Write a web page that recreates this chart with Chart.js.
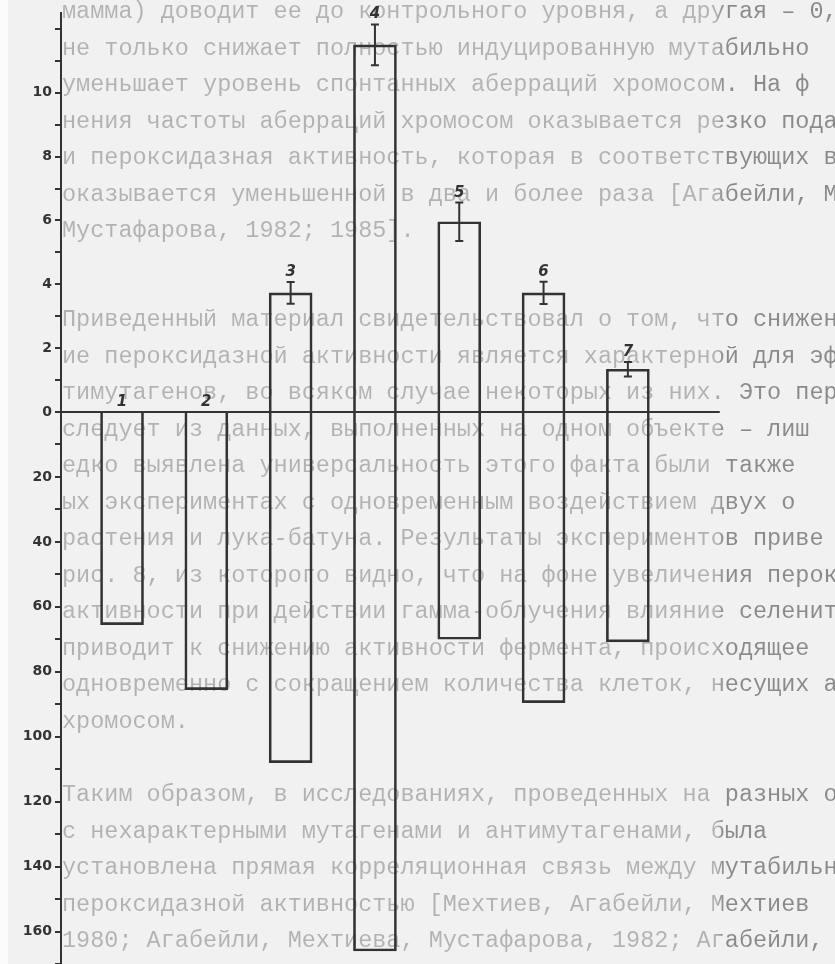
<!DOCTYPE html>
<html lang="ru">
<head>
<meta charset="utf-8">
<title>Рис. 8</title>
<script src="https://cdn.jsdelivr.net/npm/chart.js@4.4.1/dist/chart.umd.min.js"></script>
<style>
  html, body { margin: 0; padding: 0; }
  body {
    width: 835px; height: 964px; overflow: hidden; position: relative;
    background: #f1f1f1;
  }
  #edge { position: absolute; left: 0; top: 0; width: 8px; height: 964px; background: #fbfbfb; }
  /* faded page text behind the figure */
  .ln {
    position: absolute; left: 0; width: 835px; box-sizing: border-box; padding-left: 62px;
    white-space: pre; font-family: "Liberation Mono", monospace; font-size: 23.5px; line-height: 26px;
    background: linear-gradient(to right, #b2b2b2 0, #b2b2b2 716px, #8a8a8a 724px, #8a8a8a 835px);
    -webkit-background-clip: text; background-clip: text; color: transparent;
  }
  #chart { position: absolute; left: 0; top: 0; }
</style>
</head>
<body>
<div id="edge"></div>
<div id="page"></div>
<canvas id="chart" width="835" height="964"></canvas>
<script>
// -- Data --
const groups = ['1', '2', '3', '4', '5', '6', '7'];
const groupX = [1, 2, 3, 4, 5, 6, 7];
const upperValues = [0, 0, 3.73, 11.5, 5.96, 3.73, 1.34];
const upperErrors = [0, 0, 0.34, 0.64, 0.6, 0.35, 0.23];
const lowerValues = [65.5, 85.5, 108, 166, 70, 89.5, 70.8];
const upperTicks = [0, 2, 4, 6, 8, 10];
const lowerTicks = [20, 40, 60, 80, 100, 120, 140, 160];

// -- Page text (bleeding through the scan) --
const paragraphs = [
    ['мамма) доводит ее до контрольного уровня, а другая – 0,00',
     'не только снижает полностью индуцированную мутабильно',
     'уменьшает уровень спонтанных аберраций хромосом. На ф',
     'нения частоты аберраций хромосом оказывается резко пода',
     'и пероксидазная активность, которая в соответствующих в',
     'оказывается уменьшенной в два и более раза [Агабейли, М',
     'Мустафарова, 1982; 1985].'],
    ['Приведенный материал свидетельствовал о том, что снижен',
     'ие пероксидазной активности является характерной для эфф',
     'тимутагенов, во всяком случае некоторых из них. Это первое',
     'следует из данных, выполненных на одном объекте – лиш',
     'едко выявлена универсальность этого факта были также',
     'ых экспериментах с одновременным воздействием двух о',
     'растения и лука-батуна. Результаты экспериментов приве',
     'рис. 8, из которого видно, что на фоне увеличения перокс',
     'активности при действии гамма-облучения влияние селенита',
     'приводит к снижению активности фермента, происходящее',
     'одновременно с сокращением количества клеток, несущих аб',
     'хромосом.'],
    ['Таким образом, в исследованиях, проведенных на разных об',
     'с нехарактерными мутагенами и антимутагенами, была',
     'установлена прямая корреляционная связь между мутабильно',
     'пероксидазной активностью [Мехтиев, Агабейли, Мехтиев',
     '1980; Агабейли, Мехтиева, Мустафарова, 1982; Агабейли, М']
];
const paraStart = [12, 320, 795];
const lineStep = 36.5;

const page = document.getElementById('page');
paragraphs.forEach((lines, p) => {
    lines.forEach((text, i) => {
        const d = document.createElement('div');
        d.className = 'ln';
        d.textContent = text;
        d.style.top = (paraStart[p] + i * lineStep - 13) + 'px';
        page.appendChild(d);
    });
});

// -- Chart --
const ink = '#333333';
const zeroLineEnd = 8.09;

const extras = {
    id: 'extras',
    afterDatasetsDraw(chart) {
        const ctx = chart.ctx;
        const xs = chart.scales.x;
        const yt = chart.scales.yTop;
        const y0 = yt.getPixelForValue(0);
        ctx.save();
        ctx.strokeStyle = ink;
        ctx.fillStyle = ink;
        ctx.lineWidth = 2;
        // zero line
        ctx.beginPath();
        ctx.moveTo(xs.left, y0);
        ctx.lineTo(xs.getPixelForValue(zeroLineEnd), y0);
        ctx.stroke();
        // error bars and group numbers
        ctx.font = 'bold italic 15px "DejaVu Sans", sans-serif';
        ctx.textAlign = 'center';
        ctx.textBaseline = 'alphabetic';
        groupX.forEach((gx, i) => {
            const cx = xs.getPixelForValue(gx);
            let top = y0;
            if (upperErrors[i] > 0) {
                const hi = yt.getPixelForValue(upperValues[i] + upperErrors[i]);
                const lo = yt.getPixelForValue(upperValues[i] - upperErrors[i]);
                ctx.beginPath();
                ctx.moveTo(cx, hi); ctx.lineTo(cx, lo);
                ctx.moveTo(cx - 4, hi); ctx.lineTo(cx + 4, hi);
                ctx.moveTo(cx - 4, lo); ctx.lineTo(cx + 4, lo);
                ctx.stroke();
                top = hi;
            }
            ctx.fillText(groups[i], cx, top - 6);
        });
        ctx.restore();
    }
};

const axisFont = { family: '"DejaVu Sans", sans-serif', size: 14, weight: 'bold' };

function yAxis(max, step, labels, weight, reverse) {
    return {
        type: 'linear',
        position: 'left',
        stack: 'v',
        stackWeight: weight,
        reverse: reverse,
        min: 0,
        max: max,
        afterFit(scale) {
            scale.width = 61;
            scale.paddingTop = 0;
            scale.paddingBottom = 0;
        },
        border: { display: true, color: ink, width: 2 },
        grid: { drawOnChartArea: false, drawTicks: true, tickLength: 6, color: ink, lineWidth: 2 },
        ticks: {
            stepSize: step,
            maxTicksLimit: 100,
            autoSkip: false,
            includeBounds: false,
            color: ink,
            font: axisFont,
            padding: 3,
            callback: (v) => labels.includes(v) ? String(v) : ''
        }
    };
}

new Chart(document.getElementById('chart'), {
    type: 'bar',
    data: {
        datasets: [
            {
                data: groupX.map((x, i) => ({ x: x, y: upperValues[i] })),
                yAxisID: 'yTop'
            },
            {
                data: groupX.map((x, i) => ({ x: x, y: lowerValues[i] })),
                yAxisID: 'yBot'
            }
        ].map(ds => Object.assign(ds, {
            backgroundColor: 'rgba(0,0,0,0)',
            borderColor: ink,
            borderWidth: 2,
            barThickness: 43,
            grouped: false
        }))
    },
    options: {
        responsive: false,
        animation: false,
        devicePixelRatio: 1,
        layout: { padding: { top: 13, left: 0, right: 0, bottom: 0 } },
        plugins: { legend: { display: false }, tooltip: { enabled: false } },
        scales: {
            x: { type: 'linear', display: false, offset: false, min: 0.276, max: 9.457 },
            // stacked: the axis listed first is placed lowest
            yBot: yAxis(170, 10, lowerTicks, 552, true),
            yTop: yAxis(12.5, 1, upperTicks, 399, false)
        }
    },
    plugins: [extras]
});
</script>
</body>
</html>
